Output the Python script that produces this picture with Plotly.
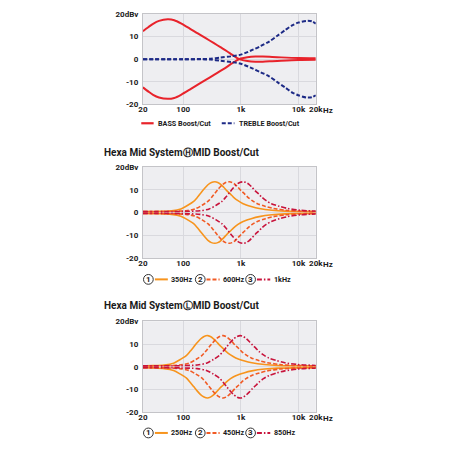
import plotly.graph_objects as go

FONT = "Roboto, Liberation Sans, sans-serif"

# ---------------- data ----------------
X_TICKS = [20, 100, 1000, 10000, 20000]
X_TICKTEXT = ["20", "100", "1k", "10k", "20k"]
X_UNIT = "Hz"
Y_TICKS = [-20, -10, 0, 10, 20]
Y_TICKTEXT = ["-20", "-10", "0", "10", "20dBv"]

BASS_FREQ = [20, 25, 30, 38, 54, 70, 93, 130, 179, 250, 342, 450, 574, 700, 850, 1000, 1300, 1800, 2400, 3500, 5000, 10000, 20000]
BASS_BOOST = [12.4, 14.3, 15.7, 17.0, 17.7, 17.3, 15.8, 13.6, 11.4, 9.2, 7.1, 5.2, 3.5, 2.0, 0.6, -0.2, -0.8, -1.1, -1.1, -0.9, -0.7, -0.4, -0.3]
BASS_CUT = [-12.5, -14.4, -15.8, -17.0, -17.6, -17.2, -15.7, -13.5, -11.3, -9.1, -7.0, -5.1, -3.4, -1.9, -0.5, 0.3, 0.9, 1.2, 1.2, 1.0, 0.8, 0.5, 0.4]

TREBLE_FREQ = [20, 100, 200, 300, 442, 700, 1000, 1620, 2200, 3100, 4300, 5900, 7800, 9900, 13800, 17000, 20000]
TREBLE_BOOST = [0, 0, 0.05, 0.2, 0.7, 1.3, 2.0, 4.2, 5.8, 7.8, 10.4, 12.9, 15.0, 16.2, 17.0, 16.8, 15.8]
TREBLE_CUT = [0, 0, -0.05, -0.2, -0.7, -1.3, -2.0, -4.2, -5.8, -7.6, -10.2, -12.6, -14.8, -16.0, -17.0, -16.9, -16.0]

# Hexa Mid System (H)
H1_FREQ = [20, 40, 63, 91, 120, 152, 178, 204, 232, 269, 309, 355, 398, 447, 505, 576, 661, 742, 892, 1097, 1514, 2090, 3469, 5893, 10000, 20000]
H1_BOOST = [0.4, 0.5, 0.8, 1.6, 3.2, 4.9, 6.8, 8.7, 10.4, 12.2, 13.2, 13.5, 13.2, 12.4, 11.1, 9.5, 8.1, 6.8, 5.2, 3.9, 2.7, 1.8, 1.0, 0.6, 0.45, 0.4]
H1_CUT = [-0.4, -0.5, -0.8, -1.6, -3.2, -4.9, -6.8, -8.7, -10.4, -12.2, -13.2, -13.5, -13.2, -12.4, -11.1, -9.5, -8.1, -6.8, -5.2, -3.9, -2.7, -1.8, -1.0, -0.6, -0.45, -0.4]

H2_FREQ = [20, 60, 112, 161, 213, 268, 315, 361, 410, 477, 547, 628, 705, 791, 893, 1019, 1169, 1312, 1578, 1941, 2679, 3698, 6137, 10425, 20000]
H2_BOOST = [0.4, 0.5, 0.8, 1.6, 3.2, 4.9, 6.8, 8.7, 10.4, 12.2, 13.2, 13.5, 13.2, 12.4, 11.1, 9.5, 8.1, 6.8, 5.2, 3.9, 2.7, 1.8, 1.0, 0.6, 0.45]
H2_CUT = [-0.4, -0.5, -0.8, -1.6, -3.2, -4.9, -6.8, -8.7, -10.4, -12.2, -13.2, -13.5, -13.2, -12.4, -11.1, -9.5, -8.1, -6.8, -5.2, -3.9, -2.7, -1.8, -1.0, -0.6, -0.45]

H3_FREQ = [20, 100, 196, 283, 373, 470, 551, 633, 718, 835, 958, 1100, 1234, 1385, 1564, 1784, 2048, 2298, 2763, 3399, 4693, 6477, 10749, 20000]
H3_BOOST = [0.4, 0.5, 0.8, 1.6, 3.2, 4.9, 6.8, 8.7, 10.4, 12.2, 13.2, 13.5, 13.2, 12.4, 11.1, 9.5, 8.1, 6.8, 5.2, 3.9, 2.7, 1.8, 1.0, 0.6]
H3_CUT = [-0.4, -0.5, -0.8, -1.6, -3.2, -4.9, -6.8, -8.7, -10.4, -12.2, -13.2, -13.5, -13.2, -12.4, -11.1, -9.5, -8.1, -6.8, -5.2, -3.9, -2.7, -1.8, -1.0, -0.6]

# Hexa Mid System (L)
L1_FREQ = [20, 30, 47, 68, 89, 113, 132, 152, 172, 200, 230, 264, 296, 332, 375, 428, 492, 552, 663, 816, 1126, 1554, 2580, 4382, 10000, 20000]
L1_BOOST = [0.4, 0.5, 0.8, 1.6, 3.2, 4.9, 6.8, 8.7, 10.4, 12.2, 13.3, 13.7, 13.3, 12.4, 11.1, 9.5, 8.1, 6.8, 5.2, 3.9, 2.7, 1.8, 1.0, 0.6, 0.45, 0.4]
L1_CUT = [-0.4, -0.5, -0.8, -1.6, -3.2, -4.9, -6.8, -8.7, -10.4, -12.2, -13.3, -13.7, -13.3, -12.4, -11.1, -9.5, -8.1, -6.8, -5.2, -3.9, -2.7, -1.8, -1.0, -0.6, -0.45, -0.4]

L2_FREQ = [20, 50, 87, 126, 166, 210, 246, 282, 321, 373, 428, 491, 551, 618, 698, 796, 914, 1026, 1233, 1517, 2095, 2891, 4798, 8151, 20000]
L2_BOOST = [0.4, 0.5, 0.8, 1.6, 3.2, 4.9, 6.8, 8.7, 10.4, 12.2, 13.3, 13.7, 13.3, 12.4, 11.1, 9.5, 8.1, 6.8, 5.2, 3.9, 2.7, 1.8, 1.0, 0.6, 0.4]
L2_CUT = [-0.4, -0.5, -0.8, -1.6, -3.2, -4.9, -6.8, -8.7, -10.4, -12.2, -13.3, -13.7, -13.3, -12.4, -11.1, -9.5, -8.1, -6.8, -5.2, -3.9, -2.7, -1.8, -1.0, -0.6, -0.4]

L3_FREQ = [20, 90, 175, 253, 334, 421, 493, 566, 643, 748, 858, 985, 1105, 1240, 1401, 1598, 1834, 2058, 2474, 3044, 4202, 5800, 9625, 20000]
L3_BOOST = [0.4, 0.5, 0.8, 1.6, 3.2, 4.9, 6.8, 8.7, 10.4, 12.2, 13.3, 13.7, 13.3, 12.4, 11.1, 9.5, 8.1, 6.8, 5.2, 3.9, 2.7, 1.8, 1.0, 0.6]
L3_CUT = [-0.4, -0.5, -0.8, -1.6, -3.2, -4.9, -6.8, -8.7, -10.4, -12.2, -13.3, -13.7, -13.3, -12.4, -11.1, -9.5, -8.1, -6.8, -5.2, -3.9, -2.7, -1.8, -1.0, -0.6]

TOP_LEGEND = ["BASS Boost/Cut", "TREBLE Boost/Cut"]
H_TITLE = "Hexa Mid System\u24bdMID Boost/Cut"
L_TITLE = "Hexa Mid System\u24c1MID Boost/Cut"
H_LEGEND = ["350Hz", "600Hz", "1kHz"]
L_LEGEND = ["250Hz", "450Hz", "850Hz"]
NUMS = ["1", "2", "3"]

# ---------------- styles ----------------
RED = "#e8232b"
NAVY = "#1d2a86"
C1 = "#f7941d"
C2 = "#f15a24"
C3 = "#c8143c"
DASH_BLUE = "4px,2px"
DASH2 = "4px,2px"
DASH3 = "5px,2px,1.5px,2px"
BG = "#eeeef1"
GRID = "#d9d9de"
BORDER = "#c4c4c8"
TXT = "#1a1a1a"

W = H = 450.0
def px(x):
    return x / W
def py(y):
    return 1 - y / H

fig = go.Figure()

def add(freq, vals, color, dash, width, axis):
    fig.add_trace(go.Scatter(
        x=freq, y=vals, mode="lines", xaxis="x" + axis, yaxis="y" + axis,
        line=dict(color=color, dash=dash, width=width, shape="spline", smoothing=0.8),
        showlegend=False, hoverinfo="skip"))

# top chart
add(BASS_FREQ, BASS_BOOST, RED, "solid", 2.0, "")
add(BASS_FREQ, BASS_CUT, RED, "solid", 2.0, "")
add(TREBLE_FREQ, TREBLE_BOOST, NAVY, DASH_BLUE, 2.0, "")
add(TREBLE_FREQ, TREBLE_CUT, NAVY, DASH_BLUE, 2.0, "")

# middle chart
for f, b, c, col, d in [(H1_FREQ, H1_BOOST, H1_CUT, C1, "solid"),
                        (H2_FREQ, H2_BOOST, H2_CUT, C2, DASH2),
                        (H3_FREQ, H3_BOOST, H3_CUT, C3, DASH3)]:
    add(f, b, col, d, 1.6, "2")
    add(f, c, col, d, 1.6, "2")

# bottom chart
for f, b, c, col, d in [(L1_FREQ, L1_BOOST, L1_CUT, C1, "solid"),
                        (L2_FREQ, L2_BOOST, L2_CUT, C2, DASH2),
                        (L3_FREQ, L3_BOOST, L3_CUT, C3, DASH3)]:
    add(f, b, col, d, 1.6, "3")
    add(f, c, col, d, 1.6, "3")

tickfont = dict(family=FONT, size=8, color=TXT, weight="bold")
XDOM = [px(141.7), px(319.3)]

def xaxis(anchor):
    return dict(type="log", domain=XDOM, range=[1.30103, 4.30103], anchor=anchor,
                tickvals=X_TICKS, ticktext=X_TICKTEXT, tickfont=tickfont, tickangle=0,
                showgrid=True, gridcolor=GRID, gridwidth=1, zeroline=False,
                showline=True, linecolor=BORDER, linewidth=1, mirror=True,
                ticks="", ticklabelstandoff=-3, fixedrange=True)

def yaxis(anchor, top, bottom):
    return dict(domain=[py(bottom), py(top)], range=[-20, 20], anchor=anchor,
                tickvals=Y_TICKS, ticktext=Y_TICKTEXT, tickfont=tickfont,
                showgrid=True, gridcolor=GRID, gridwidth=1, zeroline=False,
                showline=True, linecolor=BORDER, linewidth=1, mirror=True,
                ticks="", ticklabelstandoff=2, fixedrange=True)

annotations = []
shapes = []

def text(x, y, s, size=7.2, xanchor="left"):
    annotations.append(dict(x=px(x), y=py(y), xref="paper", yref="paper", text=s,
                            showarrow=False, xanchor=xanchor, yanchor="middle",
                            borderpad=0, font=dict(family=FONT, size=size, color=TXT, weight="bold")))

def lsample(x0, x1, y, color, dash, width):
    shapes.append(dict(type="line", xref="paper", yref="paper", x0=px(x0), x1=px(x1),
                       y0=py(y), y1=py(y), line=dict(color=color, dash=dash, width=width)))

def circ(cx, cy, r, n):
    shapes.append(dict(type="circle", xref="paper", yref="paper",
                       x0=px(cx - r), x1=px(cx + r), y0=py(cy + r), y1=py(cy - r),
                       line=dict(color="#333333", width=1), fillcolor="white"))
    text(cx, cy, n, size=8, xanchor="center")

# "Hz" unit after the last x tick label of each chart
for yb in (109.0, 265.7, 423.3):
    text(326.0, yb, X_UNIT, size=8)

# top legend
lsample(140, 152.7, 121.7, RED, "solid", 2.2)
text(156.5, 121.7, TOP_LEGEND[0])
lsample(222.7, 235.7, 121.7, NAVY, DASH_BLUE, 2.2)
text(239.0, 121.7, TOP_LEGEND[1])

# titles
text(100.5, 151.7, H_TITLE, size=10)
text(100.5, 307.7, L_TITLE, size=10)

# mid legends
for ly, labels in [(281.0, H_LEGEND), (437.7, L_LEGEND)]:
    circ(147.3, ly, 5.0, NUMS[0])
    lsample(154, 167.3, ly, C1, "solid", 2)
    text(169.8, ly, labels[0])
    circ(200.6, ly, 5.0, NUMS[1])
    lsample(207, 220.5, ly, C2, DASH2, 2)
    text(222.5, ly, labels[1])
    circ(252.3, ly, 5.0, NUMS[2])
    lsample(258.8, 272.5, ly, C3, DASH3, 2)
    text(275.2, ly, labels[2])

fig.update_layout(
    width=450, height=450, margin=dict(l=0, r=0, t=0, b=0),
    paper_bgcolor="white", plot_bgcolor=BG, showlegend=False,
    xaxis=xaxis("y"), yaxis=yaxis("x", 10.3, 102.3),
    xaxis2=xaxis("y2"), yaxis2=yaxis("x2", 166.3, 259.3),
    xaxis3=xaxis("y3"), yaxis3=yaxis("x3", 323.7, 416.7),
    annotations=annotations, shapes=shapes,
)

fig.write_html("out.html")
